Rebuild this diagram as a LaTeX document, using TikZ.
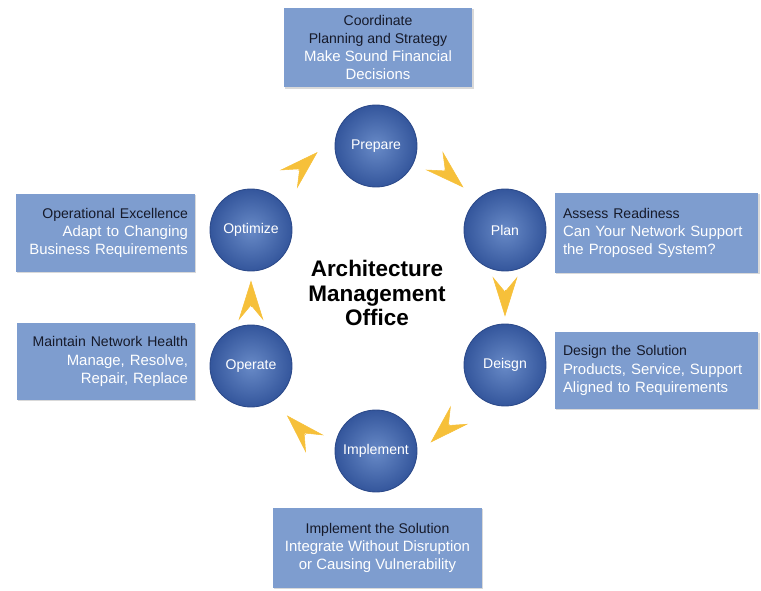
\documentclass[tikz,border=0pt]{standalone}
\usepackage{fontspec}
\setmainfont{Liberation Sans}
\usetikzlibrary{arrows.meta,shadows}

\definecolor{boxblue}{RGB}{126,157,207}
\definecolor{ballin}{RGB}{104,138,199}
\definecolor{ballout}{RGB}{52,86,156}
\definecolor{ballrim}{RGB}{44,74,138}
\definecolor{cycyellow}{RGB}{246,192,58}
\definecolor{darktext}{RGB}{22,26,42}

\newcommand{\dk}[1]{{\color{darktext}\fontsize{8}{10.3}\selectfont #1}}

\tikzset{
  phase/.style={circle, minimum size=1.64cm, inner sep=0pt, draw=ballrim, line width=0.5pt,
    shading=radial, inner color=ballin, outer color=ballout,
    text=white, font=\fontsize{8}{10}\selectfont},
  infobox/.style={rectangle, fill=boxblue, text=white, inner ysep=0pt,
    drop shadow={shadow xshift=0.7pt, shadow yshift=-0.7pt, opacity=0.3, fill=gray},
    font=\fontsize{8.5}{10.3}\selectfont},
  cyc/.style={draw=cycyellow, line width=0.3pt,
    -{Stealth[length=0.8cm, width=0.5cm, inset=0.3cm, fill=cycyellow]}}
}

\begin{document}
\begin{tikzpicture}[x=0.02cm, y=-0.02cm]
\useasboundingbox (0,0) rectangle (761,591);

% The six phases round the ring
\node[phase] (prepare)   at (376,146) {Prepare};
\node[phase] (plan)      at (505,230) {Plan};
\node[phase] (deisgn)    at (505,365) {Deisgn};
\node[phase] (implement) at (376,451) {Implement};
\node[phase] (operate)   at (251,366) {Operate};
\node[phase] (optimize)  at (251,230) {Optimize};

% Title in the middle of the ring
\node[font=\fontsize{12.8}{14.2}\selectfont\bfseries, align=center] (amo) at (377,293)
  {Architecture\\Management\\Office};

% The boxes that go with each phase
\node[infobox, align=center, minimum width=3.78cm, minimum height=1.6cm] (prepbox) at (378,47.5)
  {\dk{Coordinate}\\\dk{Planning and Strategy}\\Make Sound Financial\\Decisions};
\node[infobox, align=right, text width=3.3cm, inner xsep=0.14cm, minimum height=1.56cm] (optbox) at (105.5,233)
  {\dk{Operational Excellence}\\Adapt to Changing\\Business Requirements};
\node[infobox, align=left, text width=3.74cm, inner xsep=0.17cm, minimum height=1.6cm] (planbox) at (656.5,233)
  {\dk{Assess Readiness}\\Can Your Network Support\\the Proposed System?};
\node[infobox, align=right, text width=3.28cm, inner xsep=0.14cm, minimum height=1.54cm] (opbox) at (106,361.5)
  {\dk{Maintain Network Health}\\Manage, Resolve,\\Repair, Replace};
\node[infobox, align=left, text width=3.74cm, inner xsep=0.17cm, minimum height=1.54cm] (desbox) at (656.5,370.5)
  {\dk{Design the Solution}\\Products, Service, Support\\Aligned to Requirements};
\node[infobox, align=center, minimum width=4.18cm, minimum height=1.6cm] (implbox) at (377.5,548)
  {\dk{Implement the Solution}\\Integrate Without Disruption\\or Causing Vulnerability};

% Yellow arrows, clockwise (set a little outside the ring)
\draw[cyc, shorten <=0.70cm, shorten >=0.51cm] (optimize.59) -- (prepare.164);
\draw[cyc, shorten <=0.72cm, shorten >=0.36cm] (prepare.1) -- (plan.133);
\draw[cyc, shorten <=0.37cm, shorten >=0.14cm] (plan) -- (deisgn);
\draw[cyc, shorten <=0.80cm, shorten >=0.37cm] (deisgn.230) -- (implement.354);
\draw[cyc, shorten <=0.92cm, shorten >=0.40cm] (implement.204) -- (operate.302);
\draw[cyc, shorten <=0.35cm, shorten >=0.18cm] (operate) -- (optimize);

\end{tikzpicture}
\end{document}
